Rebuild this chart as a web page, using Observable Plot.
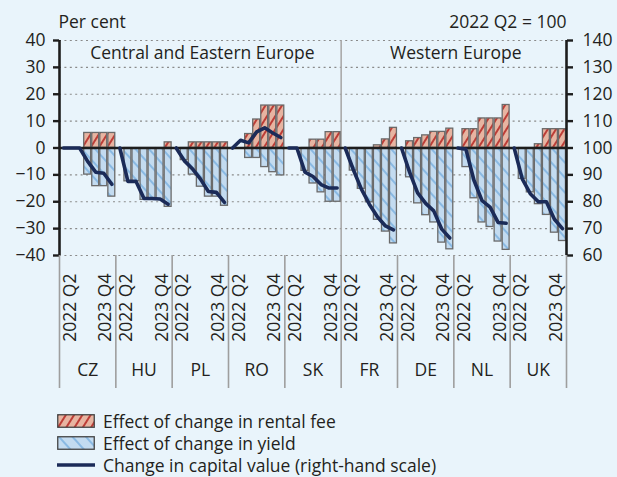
<!DOCTYPE html>
<html>
<head>
<meta charset="utf-8">
<script src="https://cdn.jsdelivr.net/npm/d3@7"></script>
<script src="https://cdn.jsdelivr.net/npm/@observablehq/plot@0.6"></script>
<style>
  html, body { margin: 0; padding: 0; background: #e9f4fb; }
  body { width: 617px; height: 477px; overflow: hidden; font-family: "Open Sans", Lato, sans-serif; color: #231f20; }
  #chart svg { display: block; }
  #legend { padding-top: 10px; padding-left: 57px; }
  #legend .row { display: flex; align-items: center; height: 22px; font-size: 17.5px; }
  #legend .row svg { margin-right: 8px; flex: none; }
</style>
</head>
<body>
<svg width="0" height="0" style="position:absolute">
  <defs>
    <pattern id="rentHatch" patternUnits="userSpaceOnUse" width="7" height="7" patternTransform="rotate(32)">
      <rect width="7" height="7" fill="#e7b4a1"></rect>
      <line x1="1" y1="0" x2="1" y2="7" stroke="#b8302b" stroke-width="1.8"></line>
    </pattern>
    <pattern id="yieldHatch" patternUnits="userSpaceOnUse" width="10" height="10" patternTransform="rotate(-42)">
      <rect width="10" height="10" fill="#c3dbf0"></rect>
      <line x1="1" y1="0" x2="1" y2="10" stroke="#84b6e2" stroke-width="1.8"></line>
    </pattern>
  </defs>
</svg>
<div id="chart"></div>
<div id="legend"></div>
<script>
// ---- data ----
const countries = ["CZ", "HU", "PL", "RO", "SK", "FR", "DE", "NL", "UK"];
const quarters = ["2022 Q2", "2022 Q3", "2022 Q4", "2023 Q1", "2023 Q2", "2023 Q3", "2023 Q4"];
const regions = ["Central and Eastern Europe", "Western Europe"];
const regionOfCountry = [0, 0, 0, 0, 0, 1, 1, 1, 1];

// Effect of change in rental fee (per cent), one list per country
const rentalEffect = [
  [0, 0, 0, 5.6, 5.6, 5.6, 5.6],        // CZ
  [0, 0, 0, 0, 0, 0, 2.1],              // HU
  [0, 0, 2.1, 2.1, 2.1, 2.1, 2.1],      // PL
  [0, 0, 5.2, 10.6, 15.8, 15.8, 15.8],  // RO
  [0, 0, 0, 3.1, 3.1, 5.9, 5.9],        // SK
  [0, 0, 0, 0, 1.0, 3.2, 7.5],          // FR
  [0, 2.5, 3.7, 4.7, 6.0, 6.0, 7.2],    // DE
  [0, 7.0, 7.0, 11.0, 11.0, 11.0, 16.0],// NL
  [0, 0, 0, 1.4, 7.0, 7.0, 7.0]         // UK
];
// Effect of change in yield (per cent)
const yieldEffect = [
  [0, 0, 0, -9.9, -14.2, -14.2, -18.1],
  [0, -12.4, -12.4, -19.3, -19.3, -19.3, -21.9],
  [0, -4.5, -9.9, -14.4, -18.1, -18.1, -21.5],
  [0, 0, -3.7, -3.7, -7.1, -9.0, -10.2],
  [0, 0, -8.5, -13.2, -16.5, -20.0, -20.0],
  [0, -8.4, -15.2, -20.2, -26.7, -31.1, -35.5],
  [0, -10.9, -20.6, -25.0, -27.7, -35.2, -37.7],
  [0, -7.1, -18.7, -27.7, -29.4, -34.8, -37.9],
  [0, -11.5, -16.5, -20.9, -24.9, -31.5, -34.6]
];
// Change in capital value, 2022 Q2 = 100 (right-hand scale)
const capitalValue = [
  [100, 100, 100, 95.0, 91.0, 90.6, 86.5],
  [100, 87.6, 87.6, 81.2, 81.2, 81.0, 79.1],
  [100, 95.3, 92.3, 88.5, 83.8, 83.5, 79.8],
  [100, 102.9, 101.9, 106.0, 107.5, 105.6, 103.9],
  [100, 100, 91.0, 89.4, 86.4, 85.1, 85.1],
  [100, 92.0, 84.8, 79.1, 74.4, 71.0, 69.5],
  [100, 91.0, 83.3, 79.4, 76.6, 69.8, 66.5],
  [100, 99.5, 88.0, 80.4, 78.0, 72.3, 72.0],
  [100, 88.5, 83.0, 80.0, 80.0, 73.5, 70.0]
];
const leftTicks = [-40, -30, -20, -10, 0, 10, 20, 30, 40];
const rightTicks = [60, 70, 80, 90, 100, 110, 120, 130, 140];
const rightBase = 100;
const legendLabels = ["Effect of change in rental fee", "Effect of change in yield", "Change in capital value (right-hand scale)"];

// ---- table ----
const nq = quarters.length;
const rows = [];
countries.forEach((c, ci) => quarters.forEach((q, qi) => rows.push({
  country: c, ci, quarter: q, qi, pos: ci * nq + qi,
  rental: rentalEffect[ci][qi], yield: yieldEffect[ci][qi], cv: capitalValue[ci][qi]
})));
const xMin = -0.5, xMax = countries.length * nq - 0.5;
const separators = d3.range(countries.length + 1).map(i => i * nq - 0.5);
const regionSplit = separators[regionOfCountry.indexOf(1)];
const regionCenters = regions.map((r, ri) => {
  const ps = rows.filter(d => regionOfCountry[d.ci] === ri).map(d => d.pos);
  return {name: r, pos: d3.mean(ps)};
});
const countryCenters = countries.map((c, ci) => ({name: c, pos: ci * nq + (nq - 1) / 2}));
const half = 0.43;
const fmt = d => d < 0 ? "\u2212" + Math.abs(d) : String(d);
const FS = 17.5;

const plot = Plot.plot({
  width: 617,
  height: 400,
  marginTop: 40,
  marginBottom: 145,
  marginLeft: 59,
  marginRight: 51,
  style: {background: "transparent", fontFamily: "'Open Sans', Lato, sans-serif", fontSize: FS + "px", color: "#231f20", overflow: "visible"},
  x: {domain: [xMin, xMax], axis: null, label: null},
  y: {domain: [leftTicks[0], leftTicks[leftTicks.length - 1]], axis: null, label: null},
  marks: [
    Plot.gridY(leftTicks, {stroke: "#8a8a8a", strokeOpacity: 1, strokeWidth: 1.2, strokeDasharray: "2,3.4"}),
    Plot.ruleX([regionSplit], {stroke: "#a9a9a9", strokeWidth: 1.6}),
    Plot.rectY(rows.filter(d => d.rental > 0), {x1: d => d.pos - half, x2: d => d.pos + half, y1: 0, y2: "rental", fill: "url(#rentHatch)", stroke: "#6a6a6a", strokeWidth: 1.3}),
    Plot.rectY(rows.filter(d => d.yield < 0), {x1: d => d.pos - half, x2: d => d.pos + half, y1: 0, y2: "yield", fill: "url(#yieldHatch)", stroke: "#6a6a6a", strokeWidth: 1.3}),
    Plot.ruleY([0], {stroke: "#1d1d1d", strokeWidth: 2.6}),
    Plot.line(rows, {x: "pos", y: d => d.cv - rightBase, z: "country", stroke: "#1b2b58", strokeWidth: 3.6, strokeLinejoin: "round"}),
    // axes lines
    Plot.ruleX([xMin, xMax], {stroke: "#1d1d1d", strokeWidth: 2.6}),
    Plot.axisY(leftTicks, {anchor: "left", label: null, tickSize: 6, tickPadding: 8, stroke: "#1d1d1d", strokeWidth: 2.4, fontSize: FS, tickFormat: fmt}),
    Plot.axisY(leftTicks, {anchor: "right", label: null, tickSize: 6, tickPadding: 10, stroke: "#1d1d1d", strokeWidth: 2.4, fontSize: FS, textAnchor: "start", tickFormat: d => String(d + rightBase)}),
    // separators below the plot
    Plot.axisX(separators, {anchor: "bottom", label: null, tickSize: 133, tickPadding: 0, stroke: "#9e9e9e", strokeWidth: 1.6, tickFormat: () => ""}),
    // quarter labels
    Plot.text(rows.filter(d => d.qi === 0), {x: "pos", text: "quarter", frameAnchor: "bottom", lineAnchor: "middle", rotate: -90, textAnchor: "end", dy: 18, dx: 6.5, fontSize: FS}),
    Plot.text(rows.filter(d => d.qi === nq - 1), {x: "pos", text: "quarter", frameAnchor: "bottom", lineAnchor: "middle", rotate: -90, textAnchor: "end", dy: 18, dx: -6, fontSize: FS}),
    // country labels
    Plot.text(countryCenters, {x: "pos", text: "name", frameAnchor: "bottom", lineAnchor: "middle", dy: 115, fontSize: FS}),
    // region titles
    Plot.text(regionCenters, {x: "pos", text: "name", frameAnchor: "top", lineAnchor: "middle", dy: 13, dx: 2, fontSize: FS}),
    // header texts
    Plot.text(["Per cent"], {frameAnchor: "top-left", lineAnchor: "middle", textAnchor: "start", dy: -18, dx: -1, fontSize: FS}),
    Plot.text([`${quarters[0]} = ${rightBase}`], {frameAnchor: "top-right", lineAnchor: "middle", textAnchor: "end", dy: -18, fontSize: FS})
  ]
});
document.getElementById("chart").appendChild(plot);

// ---- legend ----
const legend = document.getElementById("legend");
const swatches = [
  `<svg width="38" height="14"><rect x="0.75" y="0.75" width="36.5" height="12.5" fill="url(#rentHatch)" stroke="#444" stroke-width="1.3"/></svg>`,
  `<svg width="38" height="14"><rect x="0.75" y="0.75" width="36.5" height="12.5" fill="url(#yieldHatch)" stroke="#444" stroke-width="1.3"/></svg>`,
  `<svg width="38" height="14"><line x1="0" y1="7" x2="38" y2="7" stroke="#1b2b58" stroke-width="3.6"/></svg>`
];
legendLabels.forEach((label, i) => {
  const row = document.createElement("div");
  row.className = "row";
  row.innerHTML = swatches[i];
  const span = document.createElement("span");
  span.textContent = label;
  row.appendChild(span);
  legend.appendChild(row);
});
</script>
</body>
</html>
